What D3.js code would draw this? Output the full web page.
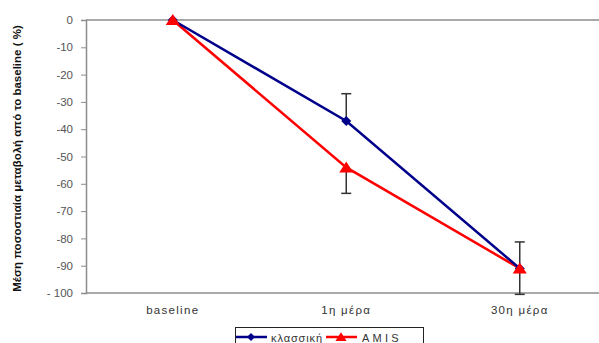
<!DOCTYPE html>
<html><head><meta charset="utf-8">
<script src="https://cdn.jsdelivr.net/npm/d3@7"></script>
<style>body{margin:0;background:#fff}svg{display:block}</style>
</head><body>
<svg id="c" width="599" height="343"></svg>
<script>
const categories = ["baseline", "1η μέρα", "30η μέρα"];
const classic = [0, -37, -91];
const classicErr = [0, 10, 9.7];
const amis = [0, -54, -91];
const amisErr = [0, 9.5, 9.5];
const yTicks = [0, -10, -20, -30, -40, -50, -60, -70, -80, -90, -100];
const yTickLabels = ["0", "-10", "-20", "-30", "-40", "-50", "-60", "-70", "-80", "-90", "- 100"];
const seriesNames = ["κλασσική", "AMIS"];
const yTitle = "Μέση ποσοστιαία μεταβολή από το baseline ( %)";

const svg = d3.select("#c");
const L = 86, T = 20, B = 293;
const x = d3.scaleBand().domain(categories).range([L, L + 3 * 173.5]);
const y = d3.scaleLinear().domain([-100, 0]).range([B, T]);
const cx = d => x(d) + x.bandwidth() / 2;

svg.append("line").attr("x1", L).attr("x2", 599).attr("y1", y(0)).attr("y2", y(0)).attr("stroke", "#8c8c8c").attr("stroke-width", 1.5);
svg.append("line").attr("x1", L).attr("x2", 599).attr("y1", y(-100)).attr("y2", y(-100)).attr("stroke", "#8c8c8c").attr("stroke-width", 1.5);

const yAxis = d3.axisLeft(y).tickValues(yTicks).tickSize(5).tickPadding(8).tickFormat((d, i) => yTickLabels[i]);
const ga = svg.append("g").attr("transform", `translate(${L},0)`).call(yAxis);
ga.select(".domain").attr("stroke", "#8c8c8c").attr("stroke-width", 1.5);
ga.selectAll(".tick line").attr("stroke", "#8c8c8c");
ga.selectAll("text").attr("font-family", "Liberation Sans, Arial, sans-serif").attr("font-size", 11.5).attr("fill", "#555");

svg.append("g").selectAll("text").data(categories).join("text")
  .attr("x", d => cx(d)).attr("y", 314).attr("text-anchor", "middle")
  .attr("font-family", "Liberation Sans, Arial, sans-serif").attr("font-size", 11.5)
  .attr("letter-spacing", "1.3px").attr("fill", "#333").text(d => d);

svg.append("text").attr("transform", `translate(21,${(T + B) / 2 + 2}) rotate(-90)`)
  .attr("text-anchor", "middle").attr("font-family", "Liberation Sans Narrow, Arial Narrow, sans-serif")
  .attr("font-weight", "bold").attr("font-size", 11.5).attr("fill", "#111").text(yTitle);

function errBars(vals, errs, sign) {
  const g = svg.append("g").attr("stroke", "#333").attr("stroke-width", 1.5);
  categories.forEach((c, i) => {
    if (!errs[i]) return;
    const y0 = y(vals[i]), y1 = y(vals[i] + sign * errs[i]);
    g.append("line").attr("x1", cx(c)).attr("x2", cx(c)).attr("y1", y0).attr("y2", y1);
    g.append("line").attr("x1", cx(c) - 5).attr("x2", cx(c) + 5).attr("y1", y1).attr("y2", y1);
  });
}
errBars(classic, classicErr, 1);
errBars(amis, amisErr, -1);

const line = d3.line().x((d, i) => cx(categories[i])).y(d => y(d));
svg.append("path").datum(amis).attr("d", line).attr("fill", "none").attr("stroke", "#ff0000").attr("stroke-width", 2.5);
svg.append("path").datum(classic).attr("d", line).attr("fill", "none").attr("stroke", "#00008b").attr("stroke-width", 2.5);

const diamond = "M0,-5L5,0L0,5L-5,0Z";
const tri = "M0,-6L7,5L-7,5Z";
svg.append("g").selectAll("path").data(classic).join("path")
  .attr("transform", (d, i) => `translate(${cx(categories[i])},${y(d)})`).attr("d", diamond).attr("fill", "#00008b");
svg.append("g").selectAll("path").data(amis).join("path")
  .attr("transform", (d, i) => `translate(${cx(categories[i])},${y(d)})`).attr("d", tri).attr("fill", "#ff0000");

const lg = svg.append("g");
lg.append("rect").attr("x", 235.5).attr("y", 327.5).attr("width", 188).attr("height", 30).attr("fill", "#fff").attr("stroke", "#222").attr("stroke-width", 1);
lg.append("line").attr("x1", 236).attr("x2", 267).attr("y1", 337).attr("y2", 337).attr("stroke", "#00008b").attr("stroke-width", 2.5);
lg.append("path").attr("transform", "translate(251,337) scale(0.8)").attr("d", diamond).attr("fill", "#00008b");
lg.append("text").attr("x", 271).attr("y", 342).attr("font-family", "Liberation Sans, Arial, sans-serif").attr("font-size", 11).attr("letter-spacing", "0.9px").attr("fill", "#333").text(seriesNames[0]);
lg.append("line").attr("x1", 326).attr("x2", 357).attr("y1", 337).attr("y2", 337).attr("stroke", "#ff0000").attr("stroke-width", 2.5);
lg.append("path").attr("transform", "translate(341,337) scale(0.8)").attr("d", tri).attr("fill", "#ff0000");
lg.append("text").attr("x", 362).attr("y", 342).attr("font-family", "Liberation Sans, Arial, sans-serif").attr("font-size", 11).attr("letter-spacing", "3.2px").attr("fill", "#333").text(seriesNames[1]);
</script>
</body></html>
